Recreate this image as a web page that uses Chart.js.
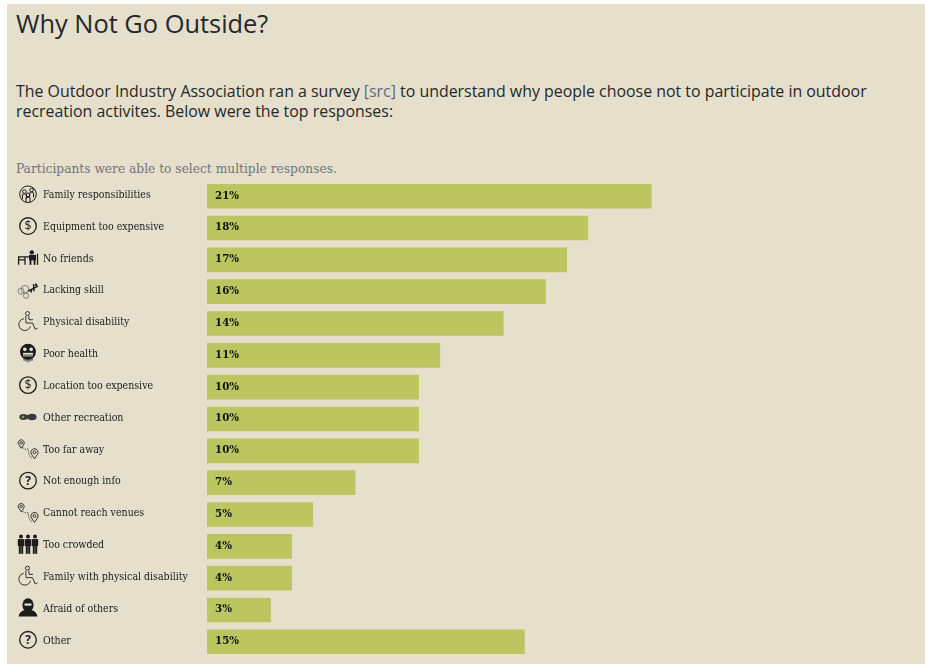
<!DOCTYPE html>
<html>
<head>
<meta charset="utf-8">
<title>Why Not Go Outside?</title>
<script src="https://cdn.jsdelivr.net/npm/chart.js@4"></script>
<style>
  html, body { margin: 0; padding: 0; background: #fff; }
  #panel { position: absolute; left: 7px; top: 4px; width: 918px; height: 660px; background: #e5dfcb; }
  h1 { position: absolute; left: 16px; top: 6px; margin: 0; font: 400 25.4px "Open Sans", sans-serif; color: #24282c; }
  #intro { position: absolute; left: 16px; top: 81px; width: 880px; margin: 0; font: 400 15.92px/20px "Open Sans", sans-serif; color: #24282c; }
  #intro span { color: #5f6b85; }
  #note { position: absolute; left: 16px; top: 160px; margin: 0; font: 400 13.6px "DejaVu Serif Condensed", "DejaVu Serif", serif; color: #6f7680; }
  #chart-container { position: absolute; left: 0; top: 174px; width: 925px; height: 490px; }
</style>
</head>
<body>
<div id="panel"></div>
<h1>Why Not Go Outside?</h1>
<p id="intro">The Outdoor Industry Association ran a survey <span>[src]</span> to understand why people choose not to participate in outdoor recreation activites. Below were the top responses:</p>
<p id="note">Participants were able to select multiple responses.</p>
<div id="chart-container"><canvas id="survey-chart" width="925" height="490"></canvas></div>
<script>
const categories = ["Family responsibilities", "Equipment too expensive", "No friends", "Lacking skill",
  "Physical disability", "Poor health", "Location too expensive", "Other recreation", "Too far away",
  "Not enough info", "Cannot reach venues", "Too crowded", "Family with physical disability",
  "Afraid of others", "Other"];
const percents = [21, 18, 17, 16, 14, 11, 10, 10, 10, 7, 5, 4, 4, 3, 15];
const iconNames = ["family", "dollar", "desk", "crash", "wheelchair", "face", "dollar", "binoculars",
  "route", "question", "route", "crowd", "wheelchair", "masked", "question"];

const INK = "#1c1c1c";
const PAPER = "#e5dfcb";

// small line icons, drawn around (0,0) in a box roughly 20px wide
const icons = {
  dollar(c) {
    ring(c, 8.3);
    c.font = "12.5px 'Open Sans'";
    c.textAlign = "center";
    c.textBaseline = "middle";
    c.fillText("$", 0, 0.5);
  },
  question(c) {
    ring(c, 8.3);
    c.font = "bold 12px 'Open Sans'";
    c.textAlign = "center";
    c.textBaseline = "middle";
    c.fillText("?", 0, 0.5);
  },
  family(c) {
    c.lineWidth = 1;
    c.beginPath();
    c.arc(0, 0, 8.3, 0, Math.PI * 2);
    c.stroke();
    [[-3.6, -2.6], [3.6, -4.2], [0, 0.6]].forEach(([x, y]) => {
      c.beginPath();
      c.arc(x, y, 1.8, 0, Math.PI * 2);
      c.stroke();
      c.beginPath();
      c.moveTo(x - 2, y + 7.5);
      c.lineTo(x - 2, y + 3);
      c.quadraticCurveTo(x, y + 1.5, x + 2, y + 3);
      c.lineTo(x + 2, y + 7.5);
      c.stroke();
    });
  },
  desk(c) {
    c.lineWidth = 1.3;
    c.beginPath();
    c.moveTo(-10, -1); c.lineTo(1, -1);
    c.moveTo(-9.4, -1); c.lineTo(-9.4, 7);
    c.moveTo(-3, -1); c.lineTo(-3, 7);
    c.moveTo(-9.4, 2); c.lineTo(-3, 2);
    c.moveTo(9.5, -4); c.lineTo(9.5, 7);
    c.stroke();
    c.beginPath();
    c.arc(3.8, -5.5, 2.2, 0, Math.PI * 2);
    c.fill();
    c.fillRect(1, -3, 7, 5.5);
    c.fillRect(1.6, 2, 1.8, 5);
    c.fillRect(5.6, 2, 1.8, 5);
  },
  crash(c) {
    c.lineWidth = 0.8;
    c.strokeStyle = "#6a6a62";
    c.beginPath(); c.arc(-7, 1.5, 3, 0, Math.PI * 2); c.stroke();
    c.beginPath(); c.arc(-2, 6, 2.6, 0, Math.PI * 2); c.stroke();
    c.beginPath(); c.arc(-3, -0.5, 3.8, 0, Math.PI * 2); c.stroke();
    c.strokeStyle = INK;
    c.lineWidth = 1.5;
    c.beginPath();
    c.moveTo(0, 1.5); c.lineTo(10, -3.5);
    c.moveTo(5.5, -5.5); c.lineTo(6, 1.5);
    c.moveTo(3.5, -0.5); c.lineTo(3, 3);
    c.stroke();
    c.beginPath(); c.arc(8, -5, 1.3, 0, Math.PI * 2); c.fill();
  },
  wheelchair(c) {
    c.lineWidth = 1;
    c.strokeStyle = "#333";
    c.beginPath(); c.arc(-0.5, -8, 2, 0, Math.PI * 2); c.stroke();
    c.beginPath(); c.arc(-3.2, 3, 6, Math.PI * 0.1, Math.PI * 1.45); c.stroke();
    c.beginPath();
    c.moveTo(-2.3, -5.5); c.lineTo(-2, 1.5); c.lineTo(4.5, 1.5); c.lineTo(7.2, 7.8); c.lineTo(9.6, 6.6);
    c.moveTo(0.8, -5.5); c.lineTo(1, -1.8); c.lineTo(5, -1.8);
    c.stroke();
  },
  face(c) {
    c.beginPath(); c.arc(0, -1.5, 8, 0, Math.PI * 2); c.fill();
    c.fillStyle = PAPER;
    c.beginPath(); c.arc(-3.2, -4, 1.8, 0, Math.PI * 2); c.fill();
    c.beginPath(); c.arc(3.2, -4, 1.8, 0, Math.PI * 2); c.fill();
    c.fillRect(-5, -0.5, 10, 3.8);
    c.fillStyle = INK;
    for (let x = -4; x <= 4; x += 2) c.fillRect(x - 0.4, 1, 0.9, 8 - Math.abs(x) * 0.4);
  },
  binoculars(c) {
    c.fillStyle = "#3a3a3a";
    c.beginPath(); c.ellipse(-4.5, 0, 4.2, 3, 0, 0, Math.PI * 2); c.fill();
    c.beginPath(); c.ellipse(4, 0, 4.6, 3.3, 0, 0, Math.PI * 2); c.fill();
    c.fillRect(-3, -2, 6, 3.5);
    c.fillStyle = "#8e8b7f";
    c.beginPath(); c.arc(-5, 0, 1.3, 0, Math.PI * 2); c.fill();
  },
  route(c) {
    c.lineWidth = 1;
    c.strokeStyle = "#333";
    pin(c, -6.8, -6, 3);
    pin(c, 6.5, 3.5, 3.6);
    c.setLineDash([1.5, 1.1]);
    c.beginPath();
    c.moveTo(-5.5, -1.5);
    c.quadraticCurveTo(-3, 1.5, 0, 0);
    c.quadraticCurveTo(0.5, 7, 4, 9.5);
    c.stroke();
    c.setLineDash([]);
  },
  crowd(c) {
    [-7, 0, 7].forEach(x => {
      c.beginPath(); c.arc(x, -7.8, 2, 0, Math.PI * 2); c.fill();
      c.fillRect(x - 3.2, -5.2, 6.4, 7);
      c.fillRect(x - 2.2, 1.5, 2, 8);
      c.fillRect(x + 0.2, 1.5, 2, 8);
    });
  },
  masked(c) {
    c.beginPath(); c.ellipse(0, -3, 5.6, 6.8, 0, 0, Math.PI * 2); c.fill();
    c.beginPath();
    c.moveTo(-9.5, 8.5); c.quadraticCurveTo(-8.5, 3, -3, 2); c.lineTo(3, 2);
    c.quadraticCurveTo(8.5, 3, 9.5, 8.5);
    c.closePath();
    c.fill();
    c.fillStyle = PAPER;
    c.fillRect(-3.5, -4.5, 7, 2.2);
  }
};

function ring(c, r) {
  c.lineWidth = 1.3;
  c.beginPath();
  c.arc(0, 0, r, 0, Math.PI * 2);
  c.stroke();
}

function pin(c, x, y, r) {
  c.beginPath();
  c.arc(x, y, r, Math.PI * 0.8, Math.PI * 0.2);
  c.lineTo(x, y + r * 1.8);
  c.closePath();
  c.stroke();
  c.beginPath();
  c.arc(x, y, r * 0.4, 0, Math.PI * 2);
  c.stroke();
}

// icon left of each category label
const rowIcons = {
  id: "rowIcons",
  afterDraw(chart) {
    const c = chart.ctx;
    const y = chart.scales.y;
    iconNames.forEach((name, i) => {
      c.save();
      c.translate(28, y.getPixelForValue(i) - 2);
      c.fillStyle = INK;
      c.strokeStyle = INK;
      icons[name](c);
      c.restore();
    });
  }
};

// percent text inside the base of each bar
const barLabels = {
  id: "barLabels",
  afterDatasetsDraw(chart) {
    const c = chart.ctx;
    const meta = chart.getDatasetMeta(0);
    c.save();
    c.font = "bold 11.4px 'DejaVu Serif Condensed'";
    c.fillStyle = "#111";
    c.textBaseline = "middle";
    meta.data.forEach((bar, i) => {
      c.fillText(percents[i] + "%", chart.scales.x.left + 8, bar.y - 0.5);
    });
    c.restore();
  }
};

new Chart(document.getElementById("survey-chart").getContext("2d"), {
  type: "bar",
  data: {
    labels: categories,
    datasets: [{
      data: percents,
      backgroundColor: "#bcc660",
      borderWidth: 0,
      barThickness: 24
    }]
  },
  options: {
    indexAxis: "y",
    responsive: false,
    animation: false,
    layout: { padding: { left: 43, right: 189, top: 0, bottom: 0 } },
    plugins: { legend: { display: false }, tooltip: { enabled: false } },
    scales: {
      x: { display: false, min: 0, max: 25, grid: { display: false } },
      y: {
        grid: { display: false },
        border: { display: false },
        afterFit(scale) { scale.width = 164; },
        ticks: {
          crossAlign: "far",
          color: "#1c1c1c",
          padding: 0,
          autoSkip: false,
          labelOffset: -1,
          font: { family: "'DejaVu Serif Condensed'", size: 10.5 }
        }
      }
    }
  },
  plugins: [rowIcons, barLabels]
});
</script>
</body>
</html>
